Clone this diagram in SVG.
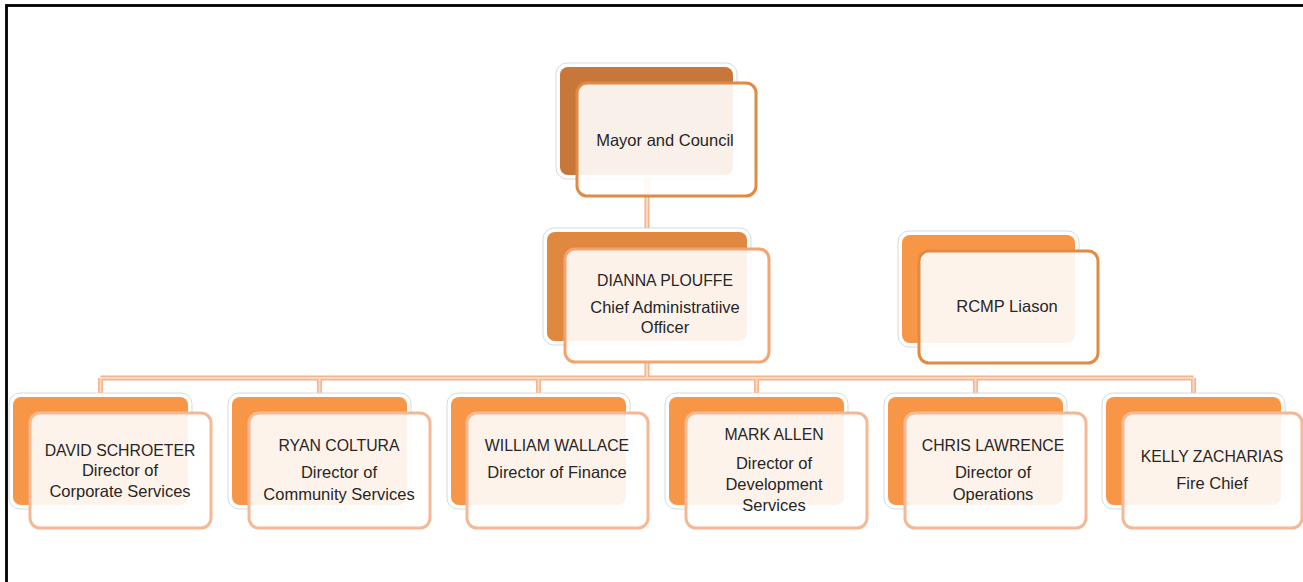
<svg xmlns="http://www.w3.org/2000/svg" width="1303" height="582" viewBox="0 0 1303 582">
<defs>
<style>
.frame{fill:none;stroke:#000;stroke-width:2.8}
.halo{fill:#fff;stroke:#cfcfcf;stroke-width:0.8}
.bk{fill:#F79646}
.bk-dark{fill:#C8773A}
.bk-mid{fill:#E0883F}
.fr{fill:#fff;fill-opacity:0.89;stroke-width:3}
.fr-dark{stroke:#E08A45}
.fr-mid{stroke:#F4A470}
.fr-light{stroke:#F5B895}
.c-out{fill:none;stroke:#F4B48C;stroke-width:5}
.c-in{fill:none;stroke:#FBD8C2;stroke-width:2}
text{font-family:"Liberation Sans",Arial,sans-serif;fill:#262626;text-anchor:middle}
.t{font-size:16.5px}
.n{font-size:15.8px}
</style>
</defs>
<rect width="1303" height="582" fill="#fff"/>
<rect class="frame" x="6.5" y="5.5" width="1400" height="700"/>

<g id="connectors">
<path class="c-out" d="M647,175V249M647,362V378M100.5,378H1193.5M100.5,378V397M319.5,378V397M538.5,378V397M756.5,378V397M975.5,378V397M1193.5,378V397"/>
<path class="c-in" d="M647,175V249M647,362V378M100.5,378H1193.5M100.5,378V397M319.5,378V397M538.5,378V397M756.5,378V397M975.5,378V397M1193.5,378V397"/>
</g>

<g id="mayor">
<rect class="halo" x="556" y="63" width="181" height="116" rx="11"/>
<rect class="bk-dark" x="560" y="67" width="173" height="108" rx="8"/>
<rect class="fr fr-dark" x="577" y="83" width="179" height="113" rx="10"/>
<text class="t" x="665" y="146">Mayor and Council</text>
</g>

<g id="cao">
<rect class="halo" x="543" y="228" width="208" height="117" rx="11"/>
<rect class="bk-mid" x="547" y="232" width="200" height="109" rx="8"/>
<rect class="fr fr-mid" x="565" y="249" width="204" height="113" rx="10"/>
<text class="n" x="665" y="286">DIANNA PLOUFFE</text>
<text class="t" x="665" y="313">Chief Administratiive</text>
<text class="t" x="665" y="333">Officer</text>
</g>

<g id="rcmp">
<rect class="halo" x="898" y="231" width="181" height="116" rx="11"/>
<rect class="bk" x="902" y="235" width="173" height="108" rx="8"/>
<rect class="fr fr-dark" x="919" y="251" width="179" height="112" rx="10"/>
<text class="t" x="1007" y="312">RCMP Liason</text>
</g>

<g id="david">
<rect class="halo" x="9" y="393" width="183" height="116" rx="11"/>
<rect class="bk" x="13" y="397" width="175" height="108" rx="8"/>
<rect class="fr fr-light" x="30" y="413" width="181" height="115" rx="10"/>
<text class="n" x="120" y="456">DAVID SCHROETER</text>
<text class="t" x="120" y="476">Director of</text>
<text class="t" x="120" y="497">Corporate Services</text>
</g>

<g id="ryan">
<rect class="halo" x="228" y="393" width="183" height="116" rx="11"/>
<rect class="bk" x="232" y="397" width="175" height="108" rx="8"/>
<rect class="fr fr-light" x="249" y="413" width="181" height="115" rx="10"/>
<text class="n" x="339" y="451">RYAN COLTURA</text>
<text class="t" x="339" y="478">Director of</text>
<text class="t" x="339" y="500">Community Services</text>
</g>

<g id="william">
<rect class="halo" x="447" y="393" width="183" height="116" rx="11"/>
<rect class="bk" x="451" y="397" width="175" height="108" rx="8"/>
<rect class="fr fr-light" x="467" y="413" width="181" height="115" rx="10"/>
<text class="n" x="557" y="451">WILLIAM WALLACE</text>
<text class="t" x="557" y="478">Director of Finance</text>
</g>

<g id="mark">
<rect class="halo" x="665" y="393" width="183" height="116" rx="11"/>
<rect class="bk" x="669" y="397" width="175" height="108" rx="8"/>
<rect class="fr fr-light" x="686" y="413" width="181" height="115" rx="10"/>
<text class="n" x="774" y="440">MARK ALLEN</text>
<text class="t" x="774" y="469">Director of</text>
<text class="t" x="774" y="490">Development</text>
<text class="t" x="774" y="511">Services</text>
</g>

<g id="chris">
<rect class="halo" x="884" y="393" width="183" height="116" rx="11"/>
<rect class="bk" x="888" y="397" width="175" height="108" rx="8"/>
<rect class="fr fr-light" x="905" y="413" width="181" height="115" rx="10"/>
<text class="n" x="993" y="451">CHRIS LAWRENCE</text>
<text class="t" x="993" y="478">Director of</text>
<text class="t" x="993" y="500">Operations</text>
</g>

<g id="kelly">
<rect class="halo" x="1102" y="393" width="183" height="116" rx="11"/>
<rect class="bk" x="1106" y="397" width="175" height="108" rx="8"/>
<rect class="fr fr-light" x="1123" y="413" width="179" height="115" rx="10"/>
<text class="n" x="1212" y="462">KELLY ZACHARIAS</text>
<text class="t" x="1212" y="489">Fire Chief</text>
</g>
</svg>
